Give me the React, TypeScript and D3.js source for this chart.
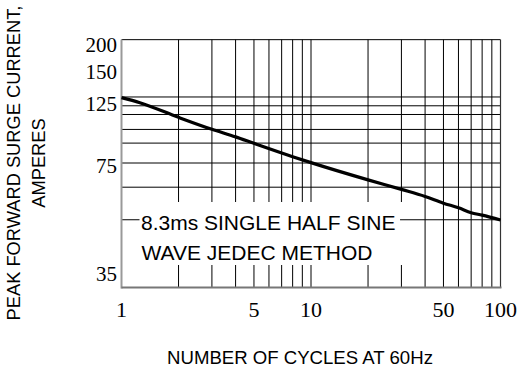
import React from "react";
import * as d3 from "d3";

// surge curve
const cycles = [1, 1.25, 2, 3, 4, 5, 8, 10, 20, 30, 40, 50, 60, 70, 80, 100];
const amps = [129.5, 125.5, 113.7, 104.1, 98, 92.8, 82.1, 77.3, 69.7, 66.2, 63.6, 61.1, 59.4, 57.6, 56.7, 54.9];

// y axis of the original is not a clean scale, so it is piecewise
const yKnots = [35, 75, 125, 150, 200];
const yKnotPos = [274, 165.5, 103.3, 71.7, 45];
const yFrame = [30, 210];

const yTickLabels = [200, 150, 125, 75, 35];
const xTickLabels = [1, 5, 10, 50, 100];
const xGrid = [2, 3, 4, 5, 6, 7, 8, 9, 10, 20, 30, 40, 50, 60, 70, 80, 90];
const yGrid = [130, 123, 116, 104, 93, 77, 67];
const noteLevel = 55;

const W = 524, H = 372;
const left = 121.5, right = 500.5;

export default function App() {
  const x = d3.scaleLog().domain([1, 100]).range([left, right]);
  const y = d3.scaleLinear().domain(yKnots).range(yKnotPos);
  const top = y(yFrame[1]);
  const bottom = y(yFrame[0]);

  const line = d3.line<number>()
    .x((d, i) => x(cycles[i]))
    .y(d => y(d))
    .curve(d3.curveMonotoneX);

  const sans = "'Liberation Sans', Arial, sans-serif";
  const serif = "'Liberation Serif', 'Times New Roman', serif";

  // white box behind the note text
  const boxRight = x(31);
  const noteY = y(noteLevel);

  return (
    <svg width={W} height={H} style={{ position: "absolute", left: 0, top: 0, background: "#fff" }}>
      {/* grid */}
      {xGrid.map(v => (
        <line key={"vx" + v} x1={x(v)} x2={x(v)} y1={top} y2={bottom} stroke="#000" strokeWidth={1} />
      ))}
      {yGrid.map(v => (
        <line key={"hy" + v} x1={left} x2={right} y1={y(v)} y2={y(v)} stroke="#000" strokeWidth={1} />
      ))}
      <line x1={left} x2={right} y1={top} y2={top} stroke="#000" strokeWidth={1} />
      <line x1={right} x2={right} y1={top} y2={bottom} stroke="#333" strokeWidth={1.2} />

      {/* note box */}
      <rect x={left + 1} y={202} width={boxRight - left - 1} height={63} fill="#fff" />
      <line x1={left} x2={left + 18} y1={noteY} y2={noteY} stroke="#000" strokeWidth={1} />
      <line x1={x(29.5)} x2={right} y1={noteY} y2={noteY} stroke="#000" strokeWidth={1} />
      <text x={141} y={229.5} fontFamily={sans} fontSize={21} fill="#000">8.3ms SINGLE HALF SINE</text>
      <text x={141.5} y={260} fontFamily={sans} fontSize={21} fill="#000">WAVE JEDEC METHOD</text>

      {/* axes */}
      <line x1={left} x2={left} y1={top} y2={bottom + 1} stroke="#999" strokeWidth={2} />
      <line x1={left} x2={right + 1} y1={bottom} y2={bottom} stroke="#777" strokeWidth={2} />

      {/* curve */}
      <path d={line(amps) || ""} fill="none" stroke="#000" strokeWidth={3.2} />

      {/* tick labels */}
      {yTickLabels.map(v => (
        <text key={"yt" + v} x={117} y={y(v)} dy="0.35em" textAnchor="end" fontFamily={serif} fontSize={21} fill="#000">{v}</text>
      ))}
      {xTickLabels.map(v => (
        <text key={"xt" + v} x={x(v)} y={317} textAnchor="middle" fontFamily={serif} fontSize={22} fill="#000">{v}</text>
      ))}

      {/* axis titles */}
      <text transform="translate(20,163) rotate(-90)" textAnchor="middle" fontFamily={sans} fontSize={18.3} fill="#000">PEAK FORWARD SURGE CURRENT,</text>
      <text transform="translate(45,163) rotate(-90)" textAnchor="middle" fontFamily={sans} fontSize={18.3} fill="#000">AMPERES</text>
      <text x={300} y={364} textAnchor="middle" fontFamily={sans} fontSize={18.6} fill="#000">NUMBER OF CYCLES AT 60Hz</text>
    </svg>
  );
}
